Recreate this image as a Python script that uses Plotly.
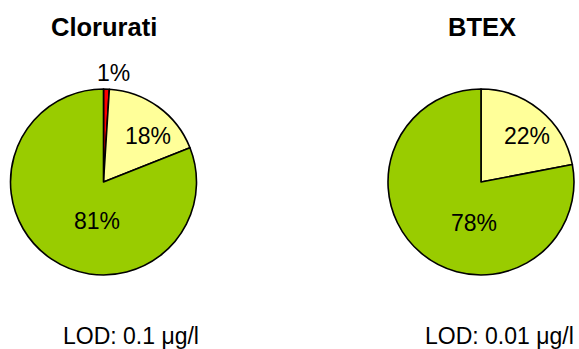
import plotly.graph_objects as go

W, H = 579, 349

# Share of samples per class
classes = ["> LOD (alto)", "> LOD", "< LOD"]
clorurati_vals = [1, 18, 81]
btex_classes = ["> LOD", "< LOD"]
btex_vals = [22, 78]

titles = ["Clorurati", "BTEX"]
lod_labels = ["LOD: 0.1 μg/l", "LOD: 0.01 μg/l"]

RED, YELLOW, GREEN = "#FF0000", "#FFFF99", "#99CC00"
FONT = "Liberation Sans, Arial, sans-serif"


def px_x(x):
    return x / W


def px_y(y):
    return 1 - y / H


fig = go.Figure()

pie_line = dict(color="black", width=1.6)

fig.add_trace(go.Pie(
    labels=classes, values=clorurati_vals, sort=False, direction="clockwise",
    rotation=0, textinfo="none", hoverinfo="label+percent",
    marker=dict(colors=[RED, YELLOW, GREEN], line=pie_line),
    domain=dict(x=[px_x(10.5), px_x(196.5)], y=[px_y(275), px_y(89)]),
    showlegend=False,
))
fig.add_trace(go.Pie(
    labels=btex_classes, values=btex_vals, sort=False, direction="clockwise",
    rotation=0, textinfo="none", hoverinfo="label+percent",
    marker=dict(colors=[YELLOW, GREEN], line=pie_line),
    domain=dict(x=[px_x(388), px_x(574)], y=[px_y(275), px_y(89)]),
    showlegend=False,
))

annotations = []
# chart titles
for t, cx in zip(titles, [104, 482]):
    annotations.append(dict(text=f"<b>{t}</b>", x=px_x(cx), y=px_y(27),
                            font=dict(size=25.5, color="black", family=FONT)))
# detection limits
for t, lx in zip(lod_labels, [61, 423]):
    annotations.append(dict(text=t, x=px_x(lx), y=px_y(336), xanchor="left",
                            font=dict(size=23, color="black", family=FONT)))

# percentage labels
label_pos = {
    0: [(113, 72.5), (148, 135.8), (97.5, 221.5)],
    1: [(526.7, 135.5), (474, 223)],
}
for idx, vals in enumerate([clorurati_vals, btex_vals]):
    total = sum(vals)
    for v, (lx, ly) in zip(vals, label_pos[idx]):
        annotations.append(dict(text=f"{round(100 * v / total)}%",
                                x=px_x(lx), y=px_y(ly),
                                font=dict(size=23, color="black", family=FONT)))

for a in annotations:
    a.setdefault("xanchor", "center")
    a.update(xref="paper", yref="paper", yanchor="middle", showarrow=False)

fig.update_layout(
    width=W, height=H,
    margin=dict(l=0, r=0, t=0, b=0),
    paper_bgcolor="white", plot_bgcolor="white",
    annotations=annotations,
)

fig.write_html("out.html")
